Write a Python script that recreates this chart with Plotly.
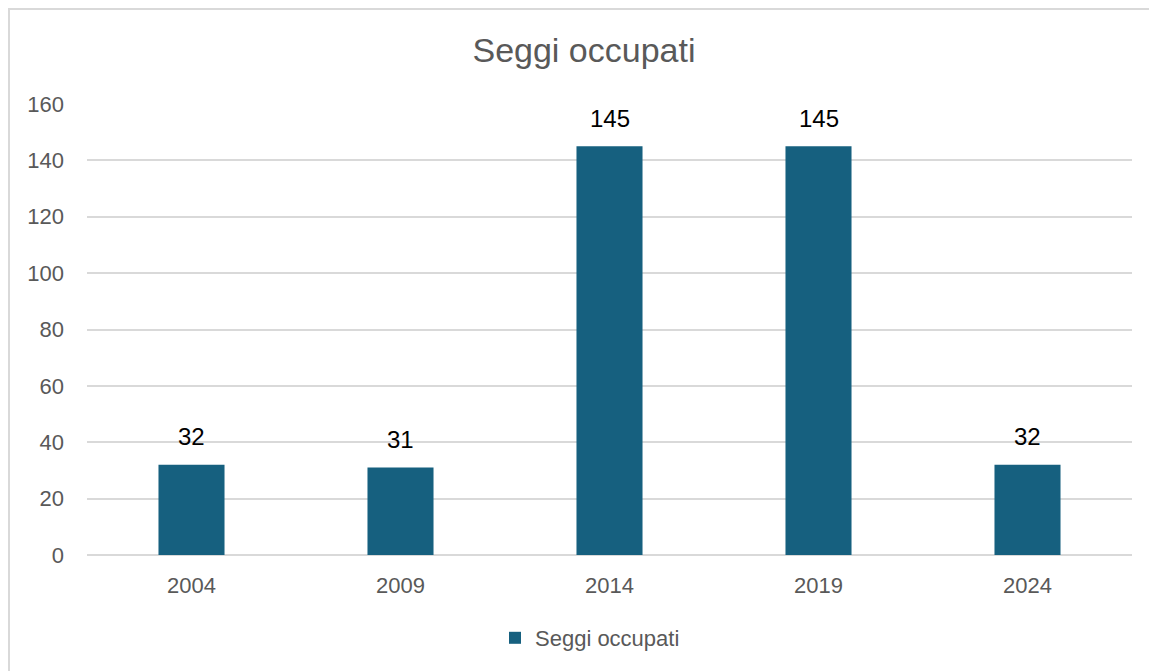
import plotly.graph_objects as go

years = ["2004", "2009", "2014", "2019", "2024"]
seats = [32, 31, 145, 145, 32]
series_name = "Seggi occupati"
title_text = "Seggi occupati"

bar_color = "#16607F"
grid_color = "#D9D9D9"
text_gray = "#595959"
font_family = "Liberation Sans, Arial, sans-serif"

# page body has an 8px default margin; figure coords = screen coords - 8
W, H = 1149, 663
L, R, T, B = 79, 25, 96, 116
plot_h = H - T - B
plot_w = W - L - R

fig = go.Figure()
fig.add_trace(go.Bar(
    x=years, y=seats, name=series_name,
    marker=dict(color=bar_color, line=dict(width=0)),
    showlegend=True,
))

# category axis: annotation x given as category index
for i, y in enumerate(seats):
    fig.add_annotation(x=i, y=y, text=str(y), showarrow=False,
                       yshift=28, font=dict(size=24, color="#000000", family=font_family))

fig.add_shape(type="rect", xref="paper", yref="paper",
              x0=-(L - 1) / plot_w, x1=1.2, y0=-0.5, y1=(plot_h + T - 1) / plot_h,
              line=dict(color="#D9D9D9", width=2), fillcolor="rgba(0,0,0,0)", layer="below")

fig.update_layout(
    width=W, height=H,
    margin=dict(l=L, r=R, t=T, b=B, autoexpand=False),
    paper_bgcolor="white", plot_bgcolor="white",
    bargap=0.684,
    title=dict(text=title_text, x=(584 - 8) / W, xanchor="center",
               y=1 - 42 / H, yanchor="middle",
               font=dict(size=34, color=text_gray, family=font_family)),
    font=dict(family=font_family, color=text_gray),
    legend=dict(orientation="h", x=(590 - 8 - L) / plot_w, xanchor="center",
                y=-(638 - 555) / plot_h, yanchor="middle",
                font=dict(size=22, color=text_gray, family=font_family)),
    xaxis=dict(type="category", categoryorder="array", categoryarray=years,
               range=[-0.5, len(years) - 0.5],
               showline=False, showgrid=False, ticks="",
               tickfont=dict(size=22, color=text_gray, family=font_family), ticklabelstandoff=15),
    yaxis=dict(range=[0, 160], dtick=20, showgrid=True, gridcolor=grid_color, gridwidth=2,
               zeroline=True, zerolinecolor=grid_color, zerolinewidth=2, showline=False,
               ticks="", tickfont=dict(size=22, color=text_gray, family=font_family),
               ticklabelstandoff=22),
)

fig.write_html("out.html")
